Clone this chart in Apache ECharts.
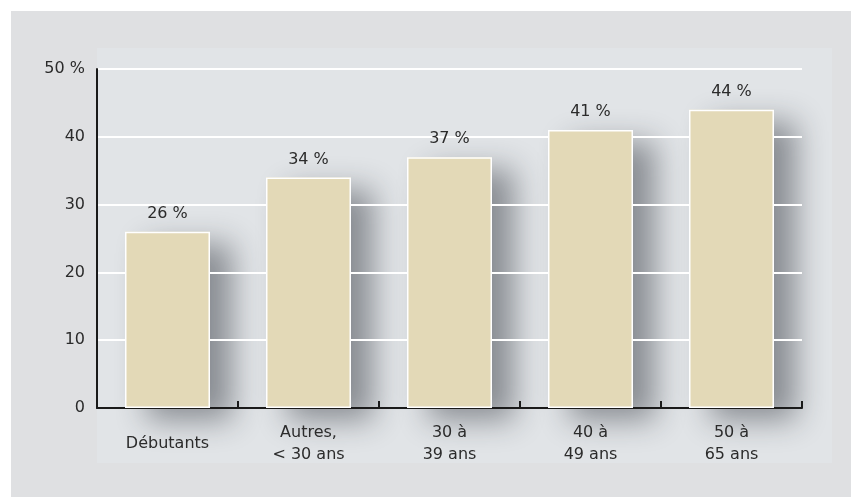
<!DOCTYPE html>
<html>
<head>
<meta charset="utf-8">
<style>
  html, body { margin: 0; padding: 0; background: #ffffff; }
  #chart { width: 851px; height: 497px; }
</style>
<script src="https://cdn.jsdelivr.net/npm/echarts@6/dist/echarts.min.js"></script>
</head>
<body>
<div id="chart"></div>
<script>
// Part des salariés par tranche d'âge (%)
const categories = ['Débutants', 'Autres,\n< 30 ans', '30 à\n39 ans', '40 à\n49 ans', '50 à\n65 ans'];
const values = [26, 34, 37, 41, 44];
const yTicks = [0, 10, 20, 30, 40, 50];

const FONT = '"DejaVu Sans", sans-serif';
const TEXT = '#2b2b2b';
const BAR_FILL = '#e3d9b7';

const chart = echarts.init(document.getElementById('chart'), null, { renderer: 'canvas' });

chart.setOption({
  animation: false,
  backgroundColor: 'transparent',
  graphic: [
    { type: 'rect', z: -10, shape: { x: 11, y: 11, width: 840, height: 486 }, style: { fill: '#dfe0e2' } },
    { type: 'rect', z: -9, shape: { x: 97, y: 48, width: 735, height: 415 }, style: { fill: '#e1e4e7' } }
  ],
  grid: { left: 97, right: 49, top: 69, bottom: 89, containLabel: false },
  xAxis: {
    type: 'category',
    data: categories,
    z: 3,
    axisLine: { lineStyle: { color: '#1a1a1a', width: 2 } },
    axisTick: { show: true, inside: true, length: 7, alignWithLabel: false, lineStyle: { color: '#1a1a1a', width: 2 } },
    axisLabel: {
      color: TEXT, fontFamily: FONT, fontSize: 16, lineHeight: 22,
      margin: 36, verticalAlign: 'middle', interval: 0
    }
  },
  yAxis: {
    type: 'value',
    min: yTicks[0], max: yTicks[yTicks.length - 1], interval: 10,
    z: 3,
    axisLine: { show: true, lineStyle: { color: '#1a1a1a', width: 2 } },
    axisTick: { show: false },
    splitLine: { show: true, lineStyle: { color: '#ffffff', width: 2 } },
    axisLabel: {
      color: TEXT, fontFamily: FONT, fontSize: 16, margin: 12,
      padding: [0, 0, 10, 0],
      formatter: v => (v === yTicks[yTicks.length - 1] ? v + ' %' : String(v))
    }
  },
  series: [
    {
      // soft drop shadow behind each column, kept under the grid lines
      type: 'bar',
      data: values,
      barWidth: 85,
      silent: true,
      z: 1,
      itemStyle: {
        color: BAR_FILL,
        shadowColor: 'rgba(30, 35, 45, 0.45)',
        shadowBlur: 30,
        shadowOffsetX: 22,
        shadowOffsetY: 12
      }
    },
    {
      // the columns themselves, with white outline and value labels
      type: 'bar',
      data: values,
      barWidth: 85,
      barGap: '-100%',
      z: 4,
      itemStyle: {
        color: BAR_FILL,
        borderColor: '#ffffff',
        borderWidth: 1.5
      },
      label: {
        show: true, position: 'top', distance: 10,
        color: TEXT, fontFamily: FONT, fontSize: 16,
        formatter: p => p.value + ' %'
      }
    }
  ]
});
</script>
</body>
</html>
